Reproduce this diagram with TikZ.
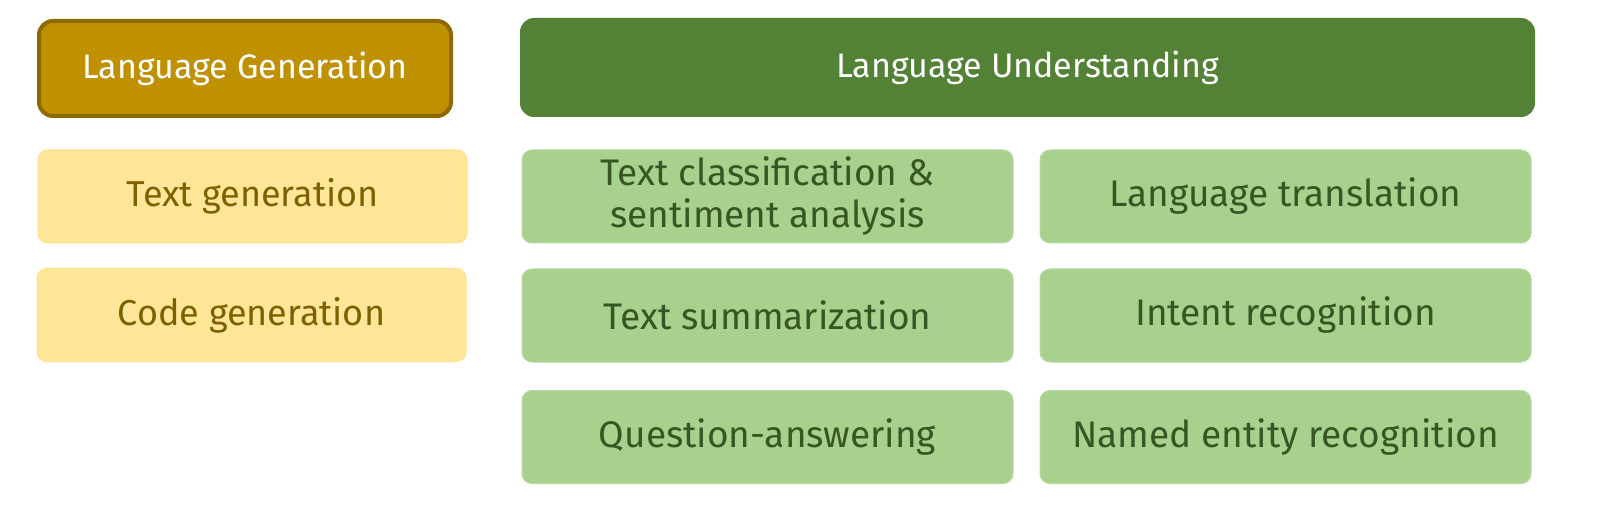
\documentclass[tikz,border=0pt]{standalone}
\usepackage{fontspec}
\setmainfont{Fira Sans}
\definecolor{genhead}{HTML}{BF9000}
\definecolor{genborder}{HTML}{8C6A00}
\definecolor{genfill}{HTML}{FFE699}
\definecolor{genedge}{HTML}{FFE08A}
\definecolor{gentext}{HTML}{7F6000}
\definecolor{undhead}{HTML}{538135}
\definecolor{undfill}{HTML}{A9D18E}
\definecolor{undedge}{HTML}{B6D9A0}
\definecolor{undtext}{HTML}{375623}
\begin{document}
\begin{tikzpicture}[x=1pt,y=-1pt,
  headbox/.style={rounded corners=14pt, inner sep=0pt, text=white,
    font=\fontsize{34}{40}\selectfont, align=center},
  genbox/.style={rounded corners=10pt, inner sep=0pt, fill=genfill, draw=genedge, line width=1pt,
    text=gentext, font=\fontsize{36}{42}\selectfont, align=center,
    minimum width=429pt, minimum height=93pt},
  undbox/.style={rounded corners=10pt, inner sep=0pt, fill=undfill, draw=undedge, line width=1pt,
    text=undtext, font=\fontsize{37}{42}\selectfont, align=center,
    minimum width=491pt, minimum height=93pt}
]
\useasboundingbox (0,0) rectangle (1600,529);
\fill[white] (0,0) rectangle (1600,529);
% headers
\node[headbox, fill=genhead, draw=genborder, line width=4pt,
  minimum width=412pt, minimum height=95pt] (lg) at (245,68.5) {Language Generation};
\node[headbox, fill=undhead, minimum width=1015pt, minimum height=99pt]
  (lu) at (1027.5,67.5) {Language Understanding};
% generation boxes
\node[genbox] (tg) at (252.5,196.5) {Text generation};
\node[genbox] (cg) at (251.5,315) {Code generation};
% understanding boxes
\node[undbox] (tc) at (767.5,196.5) {Text classification \&\\sentiment analysis};
\node[undbox] (lt) at (1285.5,196.5) {Language translation};
\node[undbox] (ts) at (767.5,315.5) {Text summarization};
\node[undbox] (ir) at (1285.5,315.5) {Intent recognition};
\node[undbox] (qa) at (767.5,437) {Question-answering};
\node[undbox] (ne) at (1285.5,437) {Named entity recognition};
\end{tikzpicture}
\end{document}
